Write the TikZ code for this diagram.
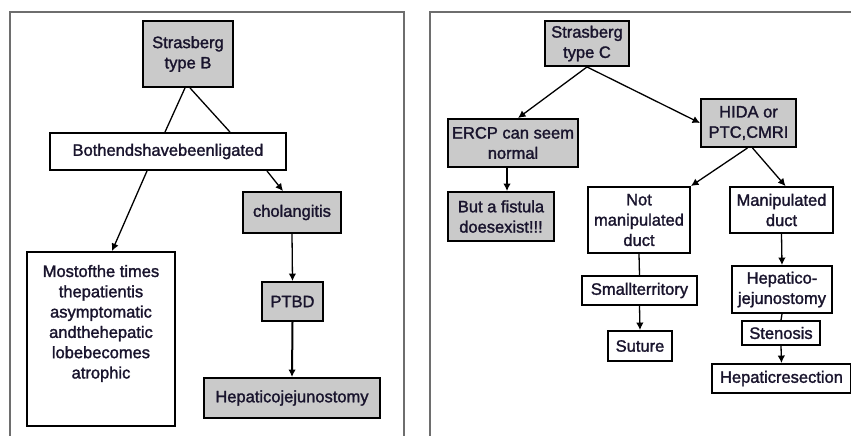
\documentclass[tikz,border=0pt]{standalone}
\usepackage{fontspec}
\setmainfont{Liberation Sans}[BoldFont={Liberation Sans}, BoldFeatures={FakeBold=1.6}]
\usetikzlibrary{arrows.meta}
\definecolor{boxgray}{RGB}{202,202,202}
\definecolor{framegray}{RGB}{110,110,110}
\definecolor{inkdark}{RGB}{25,20,45}
\begin{document}
\begin{tikzpicture}[x=1pt,y=-1pt,
  every node/.style={font=\fontsize{16.5}{20.3}\selectfont\bfseries, text=inkdark, align=center, inner sep=0pt},
  gbox/.style={draw=black, line width=1.9pt, fill=boxgray},
  wbox/.style={draw=black, line width=1.9pt, fill=white},
  link/.style={line width=1.3pt},
  arr/.style={link, -{Latex[length=7.5pt,width=7.5pt]}},
  panel/.style={draw=framegray, line width=2.6pt}]

\useasboundingbox (0,0) rectangle (851,436);

% panel frames
\draw[panel] (10,440) -- (10,12) -- (404,12) -- (404,440);
\draw[panel] (430,440) -- (430,12) -- (855,12);

% ---- Strasberg type B ----
\node[gbox, minimum width=90, minimum height=66] (sb) at (188,54) {Strasberg\\type B};
\node[wbox, minimum width=236, minimum height=37] (both) at (168,151.5) {Bothendshavebeenligated};
\node[wbox, minimum width=148, minimum height=174] (most) at (101,339)
  {\begin{minipage}[c][174pt][t]{146pt}\centering\vspace*{13pt}%
   Mostofthe times\\thepatientis\\asymptomatic\\andthehepatic\\lobebecomes\\atrophic\end{minipage}};
\node[gbox, minimum width=98, minimum height=41] (chol) at (292,212.5) {cholangitis};
\node[gbox, minimum width=61, minimum height=39] (ptbd) at (292.5,301.5) {PTBD};
\node[gbox, minimum width=176, minimum height=40] (hep) at (292,398) {Hepaticojejunostomy};

\draw[link] ([xshift=-3pt]sb.south) -- ([xshift=-3pt]both.north);
\draw[link] ([xshift=2pt]sb.south) -- ([xshift=62pt]both.north);
\draw[arr] ([xshift=-21pt]both.south) -- ([xshift=11pt]most.north);
\draw[arr] ([xshift=-20pt]both.south east) -- ([xshift=-9pt]chol.north);
\draw[arr] (chol.south) -- (ptbd.north);
\draw[arr, line width=2pt] (ptbd.south) -- (hep.north);

% ---- Strasberg type C ----
\node[gbox, minimum width=84, minimum height=45] (sc) at (587,43.5) {Strasberg\\type C};
\node[gbox, minimum width=130, minimum height=48] (ercp) at (513,143) {ERCP can seem\\normal};
\node[gbox, minimum width=95, minimum height=48] (hida) at (748.5,123) {HIDA or\\PTC,CMRI};
\node[gbox, minimum width=106, minimum height=49] (but) at (501,216.5) {But a fistula\\doesexist!!!};
\node[wbox, minimum width=102, minimum height=66] (notm) at (639,220) {Not\\manipulated\\duct};
\node[wbox, minimum width=103, minimum height=46] (man) at (781.5,210) {Manipulated\\duct};
\node[wbox, minimum width=115, minimum height=29] (small) at (639.5,290.5) {Smallterritory};
\node[wbox, minimum width=64, minimum height=30] (sut) at (640,346) {Suture};
\node[wbox, minimum width=100, minimum height=47] (hj) at (782,289.5) {Hepatico-\\jejunostomy};
\node[wbox, minimum width=78, minimum height=24] (sten) at (781,333) {Stenosis};
\node[wbox, minimum width=139, minimum height=29] (hr) at (781.5,378.5) {Hepaticresection};

\draw[arr] (sc.south) -- ([xshift=5pt]ercp.north);
\draw[arr] (sc.south) -- (hida.west);
\draw[arr] ([xshift=-6pt]ercp.south) -- ([xshift=-6pt]ercp.south |- but.north);
\draw[arr] ([xshift=-1pt]hida.south) -- (notm.north east);
\draw[arr] ([xshift=4pt]hida.south) -- ([xshift=4pt]man.north);
\draw[link] (notm.south) -- (small.north);
\draw[arr] (small.south) -- (sut.north);
\draw[arr] (man.south) -- (hj.north);
\draw[link] (hj.south) -- (sten.north);
\draw[arr] (sten.south) -- (hr.north);
\end{tikzpicture}
\end{document}
